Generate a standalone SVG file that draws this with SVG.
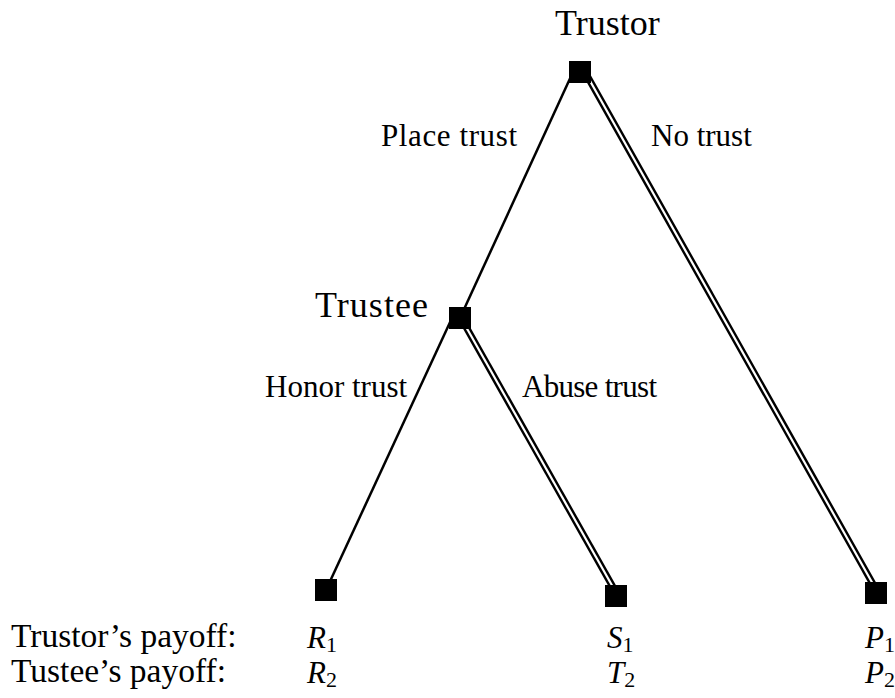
<svg xmlns="http://www.w3.org/2000/svg" width="895" height="698" viewBox="0 0 895 698">
<style>
text{font-family:"Liberation Serif","Times New Roman",serif;fill:#000}
.single{stroke:#000;stroke-width:2.5;fill:none}
.dbl-out{stroke:#000;stroke-width:7;fill:none}
.dbl-in{stroke:#fff;stroke-width:2.2;fill:none}
.node{fill:#000}
.player{font-size:36px}
.act{font-size:31px}
.pay{font-size:33.5px}
.sym{font-size:31px;font-style:italic}
.sub{font-size:22px;font-style:normal}
</style>
<rect width="895" height="698" fill="#fff"/>
<g id="connectors">
  <line class="single" x1="573" y1="72" x2="460" y2="318"/>
  <line class="dbl-out" x1="585" y1="72" x2="878" y2="593"/>
  <line class="dbl-in" x1="585" y1="72" x2="878" y2="593"/>
  <line class="single" x1="452" y1="318" x2="326" y2="590"/>
  <line class="dbl-out" x1="461" y1="318" x2="618" y2="596"/>
  <line class="dbl-in" x1="461" y1="318" x2="618" y2="596"/>
</g>
<g id="labels">
  <text class="act" x="381" y="146" textLength="136">Place trust</text>
  <text class="act" x="651" y="146">No trust</text>
  <text class="act" x="265" y="397">Honor trust</text>
  <text class="act" x="522" y="397" textLength="135">Abuse trust</text>
</g>
<g id="trustor">
  <rect class="node" x="569" y="61" width="22" height="22"/>
  <text class="player" x="555" y="35">Trustor</text>
</g>
<g id="trustee">
  <rect class="node" x="449" y="307" width="22" height="22"/>
  <text class="player" x="315" y="317" textLength="113">Trustee</text>
</g>
<g id="leaf-honor">
  <rect class="node" x="315" y="579" width="22" height="22"/>
  <text class="sym" x="307" y="648">R<tspan class="sub" dy="4">1</tspan></text>
  <text class="sym" x="307" y="683">R<tspan class="sub" dy="4">2</tspan></text>
</g>
<g id="leaf-abuse">
  <rect class="node" x="605" y="585" width="22" height="22"/>
  <text class="sym" x="607" y="648">S<tspan class="sub" dy="4">1</tspan></text>
  <text class="sym" x="607" y="683">T<tspan class="sub" dy="4">2</tspan></text>
</g>
<g id="leaf-notrust">
  <rect class="node" x="865" y="582" width="22" height="22"/>
  <text class="sym" x="865" y="648">P<tspan class="sub" dy="4">1</tspan></text>
  <text class="sym" x="865" y="683">P<tspan class="sub" dy="4">2</tspan></text>
</g>
<g id="payoff-labels">
  <text class="pay" x="11" y="647">Trustor’s payoff:</text>
  <text class="pay" x="11" y="682">Tustee’s payoff:</text>
</g>
</svg>
